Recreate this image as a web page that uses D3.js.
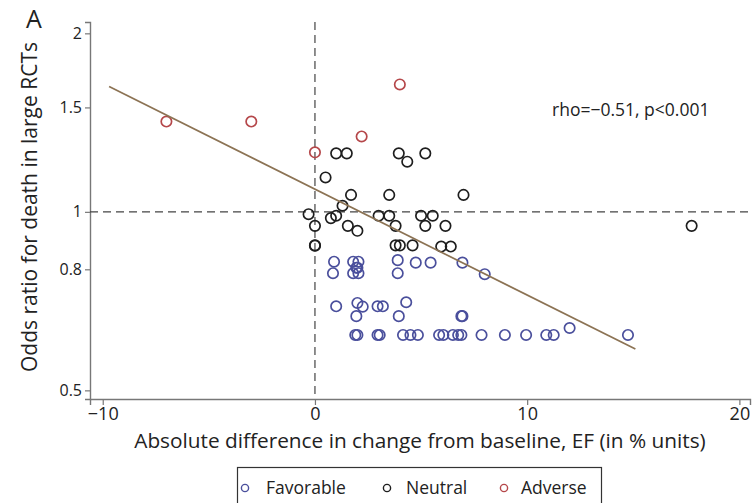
<!DOCTYPE html>
<html>
<head>
<meta charset="utf-8">
<script src="https://cdn.jsdelivr.net/npm/d3@7"></script>
<style>
  html, body { margin: 0; padding: 0; background: #fff; }
  svg text { font-family: "Open Sans", "Noto Sans", sans-serif; fill: #222; }
</style>
</head>
<body>
<svg id="chart" width="752" height="503"></svg>
<script>
// Absolute difference in EF change (x, % units) vs odds ratio for death (y)
const favorable = [
  [0.9, 0.824], [1.8, 0.824], [2.05, 0.824], [3.9, 0.829], [4.75, 0.821], [5.45, 0.821], [6.95, 0.821],
  [1.95, 0.805], [2.0, 0.805],
  [0.85, 0.788], [1.8, 0.788], [2.05, 0.788], [3.9, 0.788], [8.0, 0.785],
  [1.0, 0.693], [2.0, 0.702], [2.25, 0.692], [2.95, 0.693], [3.2, 0.693], [4.3, 0.704],
  [1.95, 0.667], [3.95, 0.667], [6.9, 0.667], [6.95, 0.667],
  [1.9, 0.62], [2.0, 0.62], [2.95, 0.62], [3.05, 0.62], [4.15, 0.62], [4.5, 0.62], [4.85, 0.62],
  [5.85, 0.62], [6.05, 0.62], [6.5, 0.62], [6.75, 0.62], [6.9, 0.62], [7.85, 0.62], [8.95, 0.62],
  [9.95, 0.62], [10.9, 0.62], [11.25, 0.62], [12.0, 0.637], [14.75, 0.62]
];
const neutral = [
  [1.0, 1.255], [1.5, 1.255], [3.95, 1.255], [4.35, 1.215], [5.2, 1.255],
  [0.5, 1.143],
  [1.7, 1.068], [3.5, 1.068], [7.0, 1.068],
  [1.3, 1.024],
  [-0.3, 0.991], [0.75, 0.976], [1.0, 0.985], [3.0, 0.985], [3.5, 0.985], [5.0, 0.985], [5.55, 0.985],
  [0.0, 0.947], [1.55, 0.947], [2.0, 0.929], [3.8, 0.947], [5.2, 0.947], [6.15, 0.947], [17.75, 0.947],
  [0.0, 0.878], [0.0, 0.877], [3.8, 0.878], [4.0, 0.878], [4.6, 0.878], [5.95, 0.874], [6.4, 0.874]
];
const adverse = [
  [-7.0, 1.42], [-3.0, 1.42], [0.0, 1.26], [2.2, 1.34], [4.0, 1.64]
];

// fitted line (straight on the log-odds axis)
const fitX = [-9.7, 15.1];
const fitY = [1.627, 0.587];

const xTicks = [-10, 0, 10, 20];
const xTickLabels = ["\u221210", "0", "10", "20"];
const yTicks = [0.5, 0.8, 1, 1.5, 2];
const yTickLabels = ["0.5", "0.8", "1", "1.5", "2"];

const groups = [
  { name: "Favorable", data: favorable, color: "#4a4f9c" },
  { name: "Neutral", data: neutral, color: "#1e1e1e" },
  { name: "Adverse", data: adverse, color: "#b5474a" }
];

const svg = d3.select("#chart");
const plotLeft = 90, plotRight = 750, plotTop = 22, plotBottom = 399;

const x = d3.scaleLinear().domain([-10.6, 20.5]).range([plotLeft, plotRight]);
const y = d3.scaleLog().domain([0.4835, 2.09]).range([plotBottom, plotTop]);

// axes
const xAxis = d3.axisBottom(x).tickValues(xTicks)
  .tickFormat((d, i) => xTickLabels[i]).tickSizeOuter(0).tickSize(6).tickPadding(2);
const gx = svg.append("g").attr("transform", `translate(0,${plotBottom})`).call(xAxis);
gx.select(".domain").attr("stroke", "#777").attr("stroke-width", 1.4);
gx.selectAll(".tick line").attr("stroke", "#777").attr("stroke-width", 1.2);
gx.selectAll(".tick text").attr("font-size", 18).style("fill", "#222");

const yAxis = d3.axisLeft(y).tickValues(yTicks)
  .tickFormat((d, i) => yTickLabels[i]).tickSizeOuter(0).tickSize(5).tickPadding(3);
const gy = svg.append("g").attr("transform", `translate(${plotLeft},0)`).call(yAxis);
gy.select(".domain").attr("stroke", "#777").attr("stroke-width", 1.4);
gy.selectAll(".tick line").attr("stroke", "#777").attr("stroke-width", 1.2);
gy.selectAll(".tick text").attr("font-size", 16).style("fill", "#222");

// reference lines at no difference / OR = 1
svg.append("line")
  .attr("x1", x(0)).attr("x2", x(0)).attr("y1", plotTop).attr("y2", plotBottom)
  .attr("stroke", "#444").attr("stroke-width", 1.2).attr("stroke-dasharray", "8,5");
svg.append("line")
  .attr("x1", plotLeft).attr("x2", plotRight).attr("y1", y(1)).attr("y2", y(1))
  .attr("stroke", "#444").attr("stroke-width", 1.2).attr("stroke-dasharray", "8,5");

// points
groups.forEach(g => {
  svg.append("g").selectAll("circle").data(g.data).join("circle")
    .attr("cx", d => x(d[0])).attr("cy", d => y(d[1])).attr("r", 5.2)
    .attr("fill", "none").attr("stroke", g.color).attr("stroke-width", 1.7);
});

// regression line
svg.append("line")
  .attr("x1", x(fitX[0])).attr("y1", y(fitY[0]))
  .attr("x2", x(fitX[1])).attr("y2", y(fitY[1]))
  .attr("stroke", "#8c7354").attr("stroke-width", 1.7);

// annotation
svg.append("text").attr("x", 552).attr("y", 116).attr("font-size", 17.5)
  .text("rho=\u22120.51, p<0.001");

// panel letter
svg.append("text").attr("x", 26).attr("y", 28).attr("font-size", 25).text("A");

// axis titles
svg.append("text")
  .attr("transform", `translate(37,207) rotate(-90)`)
  .attr("text-anchor", "middle").attr("font-size", 21)
  .text("Odds ratio for death in large RCTs");
svg.append("text")
  .attr("x", 420).attr("y", 448).attr("text-anchor", "middle").attr("font-size", 20.8)
  .text("Absolute difference in change from baseline, EF (in % units)");

// legend
const lg = svg.append("g");
lg.append("rect").attr("x", 237.5).attr("y", 467.5).attr("width", 364).attr("height", 45)
  .attr("fill", "#fff").attr("stroke", "#333").attr("stroke-width", 1.2);
const legendSymX = [245, 387, 504];
const legendTextX = [266, 406, 521];
groups.forEach((g, i) => {
  lg.append("circle").attr("cx", legendSymX[i]).attr("cy", 488).attr("r", 3.6)
    .attr("fill", "none").attr("stroke", g.color).attr("stroke-width", 1.4);
  lg.append("text").attr("x", legendTextX[i]).attr("y", 494).attr("font-size", 17.5)
    .text(g.name);
});
</script>
</body>
</html>
